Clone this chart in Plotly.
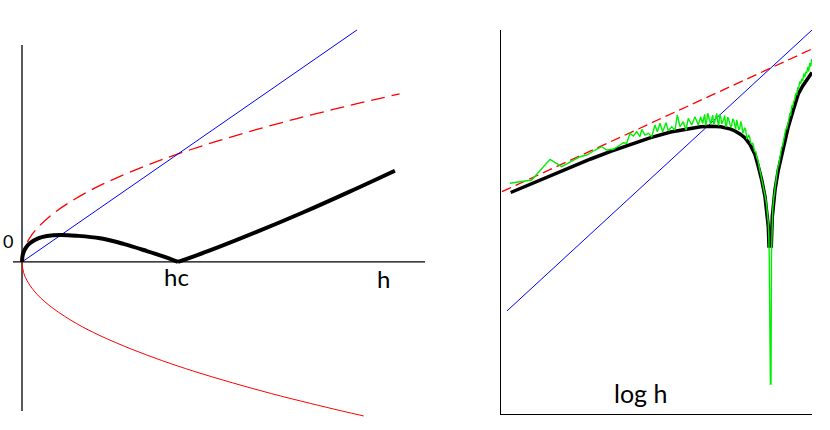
import plotly.graph_objects as go

# ---- left panel: linear h, in units of h_c ----
lin_h = [0.0, 2.147]
lin_y = [0.0, 1.487]

sq_h = [0.0, 0.005, 0.02, 0.05, 0.1, 0.2, 0.3, 0.45, 0.6, 0.8, 1.0, 1.25, 1.5, 1.75, 2.0, 2.2, 2.42]
sq_y = [0.0, 0.049, 0.098, 0.155, 0.219, 0.310, 0.379, 0.465, 0.536, 0.619, 0.6925, 0.774, 0.848, 0.916, 0.979, 1.027, 1.077]

neg_h = [0.0, 0.01, 0.04, 0.1, 0.2, 0.35, 0.5, 0.7, 0.9, 1.1, 1.35, 1.6, 1.85, 2.05, 2.19]
neg_y = [0.0, -0.067, -0.133, -0.211, -0.298, -0.395, -0.472, -0.558, -0.633, -0.700, -0.775, -0.844, -0.907, -0.955, -0.987]

# |m - h| below and above h_c
gap_lo_h = [0.0, 0.003, 0.01, 0.025, 0.05, 0.1, 0.16, 0.25, 0.35, 0.5, 0.65, 0.8, 0.9, 1.0]
gap_lo_y = [0.0, 0.036, 0.062, 0.092, 0.120, 0.150, 0.166, 0.173, 0.168, 0.152, 0.116, 0.070, 0.037, 0.0]
gap_hi_h = [1.0, 1.2, 1.5, 1.8, 2.1, 2.39]
gap_hi_y = [0.0, 0.072, 0.191, 0.317, 0.451, 0.585]

axis_h = [-0.058, 2.583]   # horizontal axis extent
axis_v = [-0.955, 1.391]   # vertical axis extent

# ---- right panel: log h vs log of each quantity ----
log_lin_x = [-2.637, 0.413]
log_lin_y = [-2.429, 0.380]
log_sq_x = [-2.687, 0.413]
log_sq_y = [-1.237, 0.190]

log_gap_x = [-2.6, -2.4, -2.2, -2.0, -1.8, -1.6, -1.4, -1.2, -1.0, -0.8, -0.7, -0.6, -0.5, -0.4,
             -0.357, -0.3, -0.257, -0.207, -0.157, -0.124, -0.09, -0.057, -0.034, -0.024, -0.017,
             0.006, 0.016, 0.043, 0.076, 0.126, 0.176, 0.226, 0.276, 0.32, 0.36, 0.413]
log_gap_y = [-1.245, -1.159, -1.074, -0.991, -0.910, -0.834, -0.762, -0.696, -0.640, -0.600, -0.587,
             -0.582, -0.588, -0.611, -0.630, -0.665, -0.700, -0.765, -0.865, -0.985, -1.120, -1.287,
             -1.453, -1.587, -1.78,
             -1.78, -1.487, -1.22, -1.02, -0.787, -0.587, -0.42, -0.26, -0.18, -0.125, -0.045]

# simulated (noisy) data, in four stretches
sim_far_x = [-2.607, -2.390, -2.207, -2.090, -1.907, -1.840, -1.757, -1.690, -1.640, -1.574, -1.507,
             -1.474, -1.440, -1.407, -1.374, -1.340, -1.307, -1.290, -1.257, -1.224, -1.190, -1.157,
             -1.134, -1.107, -1.080, -1.047, -1.024, -0.990, -0.957, -0.934, -0.907, -0.874, -0.847,
             -0.824, -0.790, -0.757, -0.724]
sim_far_y = [-1.153, -1.120, -0.913, -0.987, -0.887, -0.870, -0.820, -0.787, -0.820, -0.813, -0.770,
             -0.747, -0.753, -0.653, -0.680, -0.637, -0.687, -0.613, -0.670, -0.653, -0.687, -0.570,
             -0.637, -0.553, -0.637, -0.547, -0.627, -0.587, -0.620, -0.470, -0.587, -0.537, -0.620,
             -0.503, -0.570, -0.487, -0.570]

sim_peak_x = [-0.70, -0.69, -0.68, -0.67, -0.66, -0.65, -0.64, -0.63, -0.62, -0.61, -0.60, -0.59,
              -0.58, -0.57, -0.56, -0.55, -0.54, -0.53, -0.52, -0.51, -0.50, -0.49, -0.48, -0.47,
              -0.46, -0.45, -0.44, -0.43, -0.42, -0.41, -0.40, -0.39, -0.38, -0.37, -0.36, -0.35,
              -0.34, -0.33, -0.32, -0.31, -0.30, -0.29, -0.28, -0.27, -0.26, -0.25, -0.24, -0.23,
              -0.22, -0.21, -0.20, -0.19, -0.18, -0.17, -0.16]
sim_peak_y = [-0.487, -0.526, -0.555, -0.505, -0.464, -0.574, -0.533, -0.453, -0.492, -0.542, -0.562,
              -0.512, -0.472, -0.563, -0.543, -0.494, -0.454, -0.535, -0.576, -0.467, -0.488, -0.560,
              -0.541, -0.513, -0.475, -0.587, -0.569, -0.492, -0.515, -0.548, -0.591, -0.575, -0.508,
              -0.522, -0.586, -0.613, -0.520, -0.557, -0.613, -0.609, -0.535, -0.563, -0.651, -0.630,
              -0.598, -0.620, -0.702, -0.695, -0.668, -0.694, -0.749, -0.759, -0.749, -0.789, -0.839]

sim_dip_x = [-0.15, -0.14, -0.13, -0.12, -0.11, -0.10, -0.09, -0.08, -0.07, -0.06, -0.05, -0.04,
             -0.03, -0.025, -0.02, -0.015, -0.003, 0.003, 0.008]
sim_dip_y = [-0.830, -0.897, -0.913, -0.961, -0.991, -1.050, -1.080, -1.141, -1.181, -1.242, -1.308,
             -1.380, -1.476, -1.54, -1.65, -1.85, -3.16, -3.16, -1.85]

sim_rise_x = [0.012, 0.02, 0.03, 0.04, 0.05, 0.06, 0.07, 0.08, 0.09, 0.10, 0.11, 0.12, 0.13, 0.14,
              0.15, 0.16, 0.17, 0.18, 0.19, 0.20, 0.21, 0.22, 0.23, 0.24, 0.25, 0.26, 0.27, 0.28,
              0.29, 0.30, 0.31, 0.32, 0.33, 0.34, 0.35, 0.36, 0.37, 0.38, 0.39, 0.40, 0.41]
sim_rise_y = [-1.574, -1.417, -1.309, -1.220, -1.128, -1.077, -0.996, -0.971, -0.905, -0.868, -0.792,
              -0.775, -0.711, -0.681, -0.611, -0.611, -0.541, -0.524, -0.460, -0.467, -0.383, -0.390,
              -0.337, -0.315, -0.253, -0.271, -0.199, -0.203, -0.135, -0.156, -0.108, -0.130, -0.056,
              -0.093, -0.039, -0.055, 0.010, -0.035, 0.050, 0.015, 0.090]

BLUE = "#0000ff"
RED = "#ff0000"
GREEN = "#00ee00"
FONT = "Lato"

fig = go.Figure()

# left panel
fig.add_trace(go.Scatter(x=neg_h, y=neg_y, mode="lines", line=dict(color=RED, width=1), line_shape="spline"))
fig.add_trace(go.Scatter(x=sq_h, y=sq_y, mode="lines", line=dict(color=RED, width=1.3, dash="14px,7px"), line_shape="spline"))
fig.add_trace(go.Scatter(x=lin_h, y=lin_y, mode="lines", line=dict(color=BLUE, width=1)))
fig.add_trace(go.Scatter(x=gap_lo_h, y=gap_lo_y, mode="lines", line=dict(color="black", width=4), line_shape="spline"))
fig.add_trace(go.Scatter(x=gap_hi_h, y=gap_hi_y, mode="lines", line=dict(color="black", width=4), line_shape="spline"))

# right panel
fig.add_trace(go.Scatter(x=log_lin_x, y=log_lin_y, mode="lines", line=dict(color=BLUE, width=1),
                         xaxis="x2", yaxis="y2"))
fig.add_trace(go.Scatter(x=log_sq_x, y=log_sq_y, mode="lines", line=dict(color=RED, width=1.3, dash="10px,5px"),
                         xaxis="x2", yaxis="y2"))
fig.add_trace(go.Scatter(x=log_gap_x, y=log_gap_y, mode="lines", line=dict(color="black", width=3.5),
                         xaxis="x2", yaxis="y2"))
fig.add_trace(go.Scatter(x=sim_far_x + sim_peak_x + sim_dip_x + sim_rise_x,
                         y=sim_far_y + sim_peak_y + sim_dip_y + sim_rise_y,
                         mode="lines", line=dict(color=GREEN, width=1.4),
                         xaxis="x2", yaxis="y2"))

# axes of left panel cross at the origin
fig.add_shape(type="line", xref="x", yref="y", x0=axis_h[0], x1=axis_h[1], y0=0, y1=0,
              line=dict(color="black", width=1.3), layer="below")
fig.add_shape(type="line", xref="x", yref="y", x0=0, x1=0, y0=axis_v[0], y1=axis_v[1],
              line=dict(color="black", width=1.3), layer="below")

fig.add_annotation(x=-0.09, y=0.135, xref="x", yref="y", text="0", showarrow=False,
                   font=dict(family=FONT, size=18, color="black"))
fig.add_annotation(x=0.987, y=-0.096, xref="x", yref="y", text="hc", showarrow=False,
                   font=dict(family=FONT, size=24, color="black"))
fig.add_annotation(x=2.314, y=-0.103, xref="x", yref="y", text="h", showarrow=False,
                   font=dict(family=FONT, size=24, color="black"))
fig.add_annotation(x=-1.302, y=-3.25, xref="x2", yref="y2", text="log h", showarrow=False,
                   font=dict(family=FONT, size=25, color="black"))

hidden = dict(visible=False, showgrid=False, zeroline=False)
fig.update_layout(
    width=830, height=430,
    margin=dict(l=0, r=0, t=0, b=0),
    paper_bgcolor="white", plot_bgcolor="white",
    showlegend=False,
    xaxis=dict(domain=[0, 440 / 830], range=[-0.141, 2.679], **hidden),
    yaxis=dict(domain=[0, 1], range=[-1.077, 1.679], **hidden),
    xaxis2=dict(domain=[501 / 830, 812 / 830], range=[-2.697, 0.413], anchor="y2",
                showline=True, linecolor="black", linewidth=1, showticklabels=False,
                ticks="", showgrid=False, zeroline=False),
    yaxis2=dict(domain=[1 - 414 / 430, 1 - 30 / 430], range=[-3.46, 0.38], anchor="x2",
                showline=True, linecolor="black", linewidth=1, showticklabels=False,
                ticks="", showgrid=False, zeroline=False),
)

# drop the page's default body margin so the figure sits at the window's corner
fig.write_html("out.html", config={"displayModeBar": False},
               post_script="document.body.style.margin = '0';")
